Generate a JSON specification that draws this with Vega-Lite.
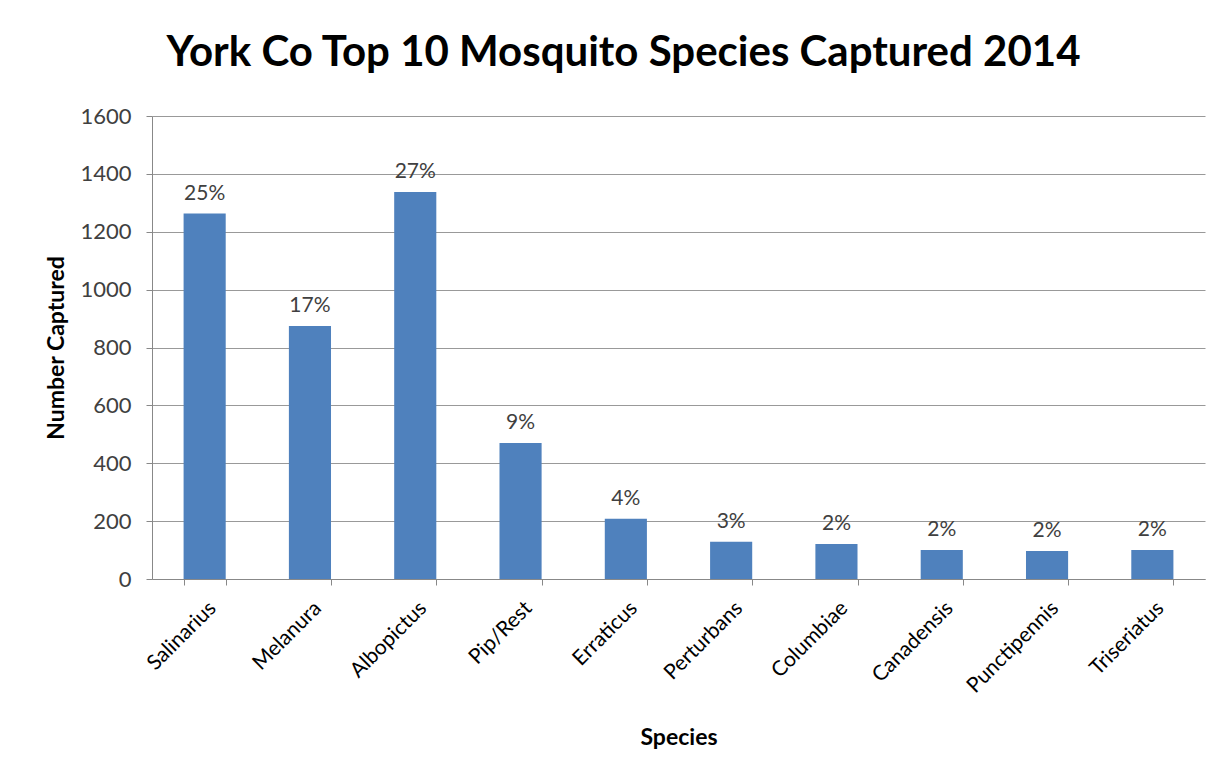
{
  "$schema": "https://vega.github.io/schema/vega-lite/v6.json",
  "autosize": {"type": "none"},
  "width": 1053,
  "height": 463,
  "padding": {"left": 152, "top": 116, "right": 21, "bottom": 197},
  "background": "white",
  "title": {
    "text": "York Co Top 10 Mosquito Species Captured 2014",
    "font": "Lato",
    "fontSize": 42,
    "fontWeight": "bold",
    "color": "#000000",
    "anchor": "middle",
    "dx": -55,
    "offset": 30
  },
  "data": {
    "values": [
      {"species": "Salinarius", "count": 1263, "pct": "25%"},
      {"species": "Melanura", "count": 874, "pct": "17%"},
      {"species": "Albopictus", "count": 1337, "pct": "27%"},
      {"species": "Pip/Rest", "count": 470, "pct": "9%"},
      {"species": "Erraticus", "count": 208, "pct": "4%"},
      {"species": "Perturbans", "count": 129, "pct": "3%"},
      {"species": "Columbiae", "count": 121, "pct": "2%"},
      {"species": "Canadensis", "count": 100, "pct": "2%"},
      {"species": "Punctipennis", "count": 97, "pct": "2%"},
      {"species": "Triseriatus", "count": 100, "pct": "2%"}
    ]
  },
  "encoding": {
    "x": {
      "field": "species",
      "type": "nominal",
      "sort": null,
      "scale": {"paddingInner": 0.6, "paddingOuter": 0.3},
      "axis": {
        "title": "Species",
        "titleFont": "Lato",
        "titleFontSize": 23,
        "titleFontWeight": "bold",
        "titleColor": "#000000",
        "titlePadding": 30,
        "labelAngle": -45,
        "labelFont": "Lato",
        "labelFontSize": 21,
        "labelColor": "#000000",
        "labelPadding": 12,
        "tickBand": "extent",
        "tickColor": "#888888",
        "tickSize": 6,
        "domainColor": "#888888",
        "grid": false
      }
    },
    "y": {
      "field": "count",
      "type": "quantitative",
      "scale": {"domain": [0, 1600]},
      "axis": {
        "title": "Number Captured",
        "titleFont": "Lato",
        "titleFontSize": 23,
        "titleFontWeight": "bold",
        "titleColor": "#000000",
        "titlePadding": 11,
        "values": [0, 200, 400, 600, 800, 1000, 1200, 1400, 1600],
        "format": "d",
        "labelFont": "Lato",
        "labelFontSize": 22,
        "labelColor": "#404040",
        "labelPadding": 15,
        "tickColor": "#888888",
        "tickSize": 6,
        "domainColor": "#888888",
        "gridColor": "#999999",
        "gridWidth": 1
      }
    }
  },
  "layer": [
    {"mark": {"type": "bar", "color": "#4F81BD"}},
    {
      "mark": {"type": "text", "baseline": "bottom", "dy": -10, "font": "Lato", "fontSize": 21, "color": "#404040"},
      "encoding": {"text": {"field": "pct"}}
    }
  ],
  "config": {"view": {"stroke": null}}
}
